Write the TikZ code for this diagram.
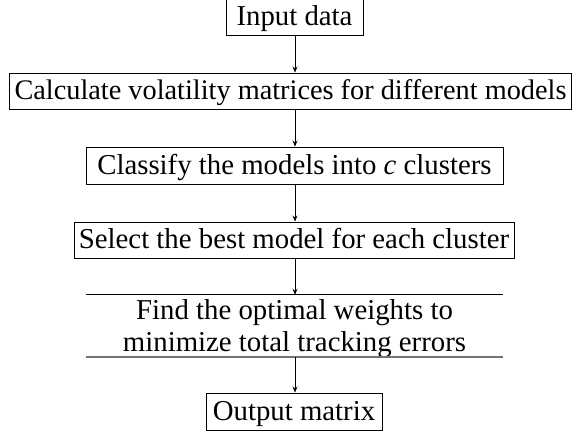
\documentclass[tikz,border=0pt]{standalone}
\usepackage{fontspec}
\setmainfont{Liberation Serif}
\usetikzlibrary{arrows.meta}
\begin{document}
\begin{tikzpicture}[x=1pt,y=-1pt,
  every node/.style={font=\fontsize{28.8}{32}\selectfont},
  stepbox/.style={draw,line width=0.9pt,inner sep=0pt,minimum height=36pt,
    text height=21pt,text depth=3pt},
  flow/.style={line width=0.8pt,-{Stealth[length=6pt,width=5pt]}}]
  \useasboundingbox (0,0) rectangle (573,435);
  \clip (0,0) rectangle (573,435);
  % process steps
  \node[stepbox,minimum width=137pt] (input) at (294.5,17) {Input data};
  \node[stepbox,minimum width=562pt,font=\fontsize{28.3}{32}\selectfont] (calc) at (290.5,91)
    {Calculate volatility matrices for different models};
  \node[stepbox,minimum width=417pt,minimum height=37pt] (classify) at (294.5,165.5) {Classify the models into \textit{c} clusters};
  \node[stepbox,minimum width=440pt] (select) at (294,240) {Select the best model for each cluster};
  \node[inner sep=0pt,minimum width=417pt,minimum height=62pt,align=center,text depth=0pt] (weights) at (294.5,326)
    {Find the optimal weights to\\minimize total tracking errors};
  \draw[line width=0.9pt] (weights.north west) -- (weights.north east);
  \draw[line width=1.6pt,black!55] (weights.south west) -- (weights.south east);
  \node[stepbox,minimum width=176pt,minimum height=37pt] (output) at (294,411.5) {Output matrix};
  % connectors
  \draw[flow] (input.south -| 295,0) -- (calc.north -| 295,0);
  \draw[flow] (calc.south -| 295,0) -- (classify.north -| 295,0);
  \draw[flow] (classify.south -| 295,0) -- (select.north -| 295,0);
  \draw[flow] (select.south -| 295,0) -- (weights.north -| 295,0);
  \draw[flow] (weights.south -| 295,0) -- (output.north -| 295,0);
\end{tikzpicture}
\end{document}
